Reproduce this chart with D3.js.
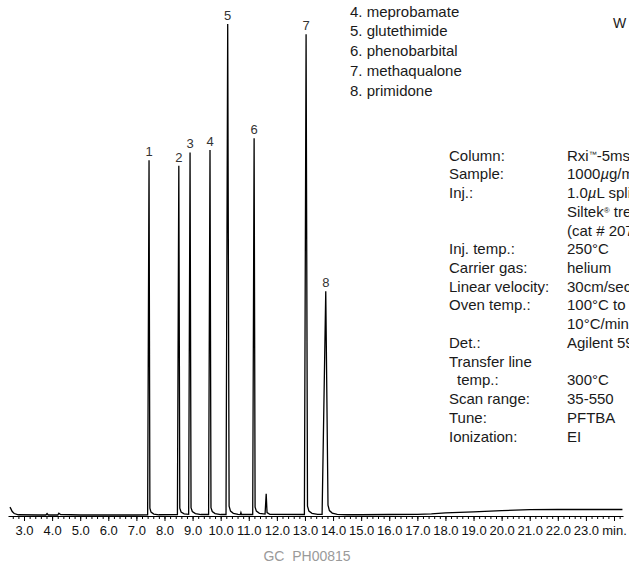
<!DOCTYPE html>
<html>
<head>
<meta charset="utf-8">
<script src="https://cdn.jsdelivr.net/npm/d3@7"></script>
<style>
    body { margin: 0; background: #fff; }
    svg { display: block; }
    .narrow { font-family: 'Liberation Sans Narrow', 'Arial Narrow', 'Liberation Sans', sans-serif; }
</style>
</head>
<body>
<svg width="629" height="562"></svg>
<script>
/* global d3 */
const width = 629;
const height = 562;

// chromatogram trace: [retention time (min), abundance (% of tallest peak)]
const trace = [
    [2.50, 1.8], [2.53, 1.5], [2.58, 0.9], [2.65, 0.5], [2.80, 0.25], [3.50, 0.2],
    [3.78, 0.2], [3.82, 0.5], [3.86, 0.2], [4.20, 0.2], [4.24, 0.55], [4.30, 0.3],
    [5.00, 0.2], [6.00, 0.2], [7.00, 0.2], [7.40, 0.25],
    [7.45, 72.3], [7.48, 1.6], [7.52, 0.8], [7.62, 0.4], [7.80, 0.25],
    [8.46, 0.3],
    [8.51, 71.2], [8.545, 1.6], [8.59, 0.8], [8.70, 0.45], [8.86, 0.35],
    [8.91, 73.9], [8.945, 1.7], [8.99, 0.9], [9.10, 0.5], [9.30, 0.3],
    [9.57, 0.3],
    [9.62, 74.4], [9.655, 1.7], [9.70, 0.9], [9.80, 0.5], [10.00, 0.3],
    [10.19, 0.3],
    [10.25, 100], [10.30, 2.0], [10.35, 1.0], [10.45, 0.55], [10.62, 0.35],
    [10.70, 0.3], [10.72, 0.7], [10.74, 0.3],
    [11.14, 0.3],
    [11.19, 76.8], [11.225, 1.8], [11.27, 1.0], [11.38, 0.55], [11.58, 0.4],
    [11.62, 4.5], [11.65, 0.7], [11.75, 0.35],
    [12.98, 0.3],
    [13.04, 97.9], [13.09, 2.0], [13.14, 1.0], [13.25, 0.55], [13.45, 0.35],
    [13.61, 0.35],
    [13.74, 45.7], [13.82, 2.2], [13.87, 1.1], [13.97, 0.6], [14.15, 0.35],
    [14.50, 0.25], [15.00, 0.25], [16.00, 0.3], [17.00, 0.35], [17.50, 0.45],
    [18.00, 0.65], [19.00, 0.85], [20.00, 1.1], [21.00, 1.3], [22.00, 1.32],
    [23.00, 1.32], [24.30, 1.32]
];

const peakNumbers = [1, 2, 3, 4, 5, 6, 7, 8];
const peakTimes = [7.45, 8.51, 8.91, 9.62, 10.25, 11.19, 13.04, 13.74];
const peakHeights = [72.3, 71.2, 73.9, 74.4, 100, 76.8, 97.9, 45.7];

const compoundNumbers = [4, 5, 6, 7, 8];
const compoundNames = ['meprobamate', 'glutethimide', 'phenobarbital', 'methaqualone', 'primidone'];

const conditionLabels = [
    'Column:', 'Sample:', 'Inj.:', '', '', 'Inj. temp.:', 'Carrier gas:', 'Linear velocity:',
    'Oven temp.:', '', 'Det.:', 'Transfer line', '  temp.:', 'Scan range:', 'Tune:', 'Ionization:'
];
const conditionValues = [
    'Rxi™-5ms 30m, 0.25mm ID, 0.25µm', '1000µg/mL each in methanol', '1.0µL split (10:1), 4mm',
    'Siltek® treated liner', '(cat # 20782-214.1)', '250°C', 'helium', '30cm/sec. @ 100°C',
    '100°C to 300°C @', '10°C/min (hold 5 min.)', 'Agilent 5973 MSD', '', '300°C', '35-550',
    'PFTBA', 'EI'
];

const majorTicks = d3.range(3, 25);
const minorTicks = d3.range(13, 122).map(function (i) {
    return i / 5;
});

const svg = d3.select('svg');

const x = d3.scaleLinear().domain([2.43, 24.32]).range([8, 623]);
const y = d3.scaleLinear().domain([0, 100]).range([516, 24]);

// minor ticks
svg.append('g')
    .attr('transform', 'translate(0,516)')
    .call(d3.axisBottom(x).tickValues(minorTicks).tickSize(3).tickSizeOuter(0).tickFormat(''))
    .call(function (g) {
        g.select('.domain').remove();
        g.selectAll('line').attr('stroke', '#000');
    });

// major ticks + labels
svg.append('g')
    .attr('class', 'narrow')
    .attr('transform', 'translate(0,516)')
    .call(d3.axisBottom(x).tickValues(majorTicks).tickSize(5).tickSizeOuter(0).tickPadding(5)
        .tickFormat(function (d) {
            return d === 24 ? 'min.' : d.toFixed(1);
        }))
    .call(function (g) {
        g.select('.domain').attr('stroke', '#000').attr('stroke-width', 1.2);
        g.selectAll('line').attr('stroke', '#000');
        g.selectAll('text')
            .attr('font-family', null)
            .attr('font-size', 13)
            .attr('fill', '#111');
    });

const line = d3.line()
    .x(function (d) {
        return x(d[0]);
    })
    .y(function (d) {
        return y(d[1]);
    });

svg.append('path')
    .datum(trace)
    .attr('d', line)
    .attr('fill', 'none')
    .attr('stroke', '#000')
    .attr('stroke-width', 1.3)
    .attr('stroke-linejoin', 'miter');

svg.append('g')
    .attr('class', 'narrow')
    .selectAll('text')
    .data(peakNumbers)
    .enter().append('text')
    .attr('x', function (d, i) {
        return x(peakTimes[i]);
    })
    .attr('y', function (d, i) {
        return y(peakHeights[i]) - 4;
    })
    .attr('text-anchor', 'middle')
    .attr('font-size', 13)
    .attr('fill', '#333')
    .text(function (d) {
        return d;
    });

// compound list
svg.append('g')
    .selectAll('text')
    .data(compoundNames)
    .enter().append('text')
    .attr('x', 350)
    .attr('y', function (d, i) {
        return 16.7 + i * 19.75;
    })
    .attr('font-family', "'Liberation Sans', sans-serif")
    .attr('font-size', 15)
    .attr('fill', '#1a1a1a')
    .text(function (d, i) {
        return compoundNumbers[i] + '. ' + d;
    });

svg.append('text')
    .attr('x', 613)
    .attr('y', 28)
    .attr('font-family', "'Liberation Sans', sans-serif")
    .attr('font-size', 14)
    .attr('fill', '#1a1a1a')
    .text('W');

// conditions block
const block = svg.append('g').attr('class', 'narrow').attr('font-size', 15).attr('fill', '#1a1a1a');

block.selectAll('text.lab')
    .data(conditionLabels)
    .enter().append('text')
    .attr('class', 'lab')
    .attr('x', function (d) {
        return d.indexOf('  ') === 0 ? 457 : 449;
    })
    .attr('y', function (d, i) {
        return 160.7 + i * 18.72;
    })
    .text(function (d) {
        return d.trim();
    });

block.selectAll('text.val')
    .data(conditionValues)
    .enter().append('text')
    .attr('class', 'val')
    .attr('x', 567)
    .attr('y', function (d, i) {
        return 160.7 + i * 18.72;
    })
    .each(function (d) {
        const t = d3.select(this);
        d.split(/(µ|™|®)/).forEach(function (part) {
            if (!part) return;
            const span = t.append('tspan').text(part);
            if (part === 'µ') span.attr('font-style', 'italic');
            if (part === '™' || part === '®') span.attr('font-size', 8).attr('baseline-shift', 'super');
        });
    });

svg.append('text')
    .attr('class', 'narrow')
    .attr('x', 307)
    .attr('y', 561)
    .attr('text-anchor', 'middle')
    .attr('font-size', 14)
    .attr('fill', '#9a9a9a')
    .attr('xml:space', 'preserve')
    .style('white-space', 'pre')
    .text('GC  PH00815');
</script>
</body>
</html>
